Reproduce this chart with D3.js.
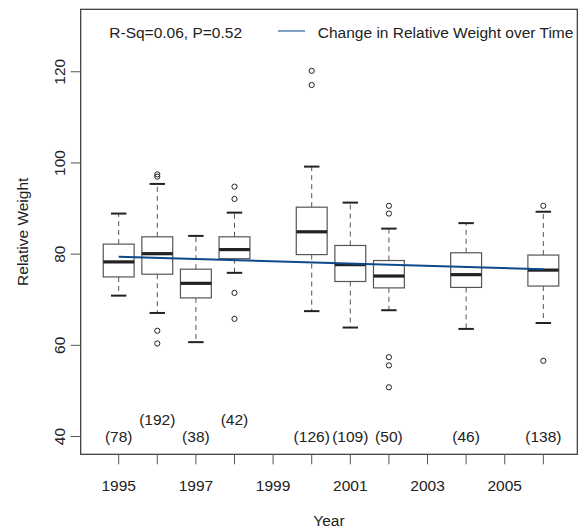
<!DOCTYPE html>
<html>
<head>
<meta charset="utf-8">
<script src="https://cdn.jsdelivr.net/npm/d3@7"></script>
<style>
  html, body { margin: 0; padding: 0; background: #fff; }
  text { font-family: "Liberation Sans", Arial, Helvetica, sans-serif; fill: #222; }
</style>
</head>
<body>
<svg id="chart" width="588" height="527"></svg>
<script>
// ---- data ----
const years        = [1995, 1996, 1997, 1998, 2000, 2001, 2002, 2004, 2006];
const counts       = [78, 192, 38, 42, 126, 109, 50, 46, 138];
const whiskerLow   = [70.9, 67.1, 60.7, 75.9, 67.5, 63.9, 67.7, 63.6, 64.9];
const q1           = [75.0, 75.6, 70.4, 79.0, 79.9, 74.0, 72.6, 72.7, 73.0];
const medians      = [78.3, 80.1, 73.6, 81.0, 84.9, 77.7, 75.2, 75.5, 76.5];
const q3           = [82.2, 83.8, 76.7, 83.8, 90.3, 81.9, 78.6, 80.3, 79.8];
const whiskerHigh  = [88.9, 95.4, 84.0, 89.1, 99.2, 91.3, 85.6, 86.8, 89.3];
const outliers     = [
  [],
  [97.5, 97.0, 63.2, 60.4],
  [],
  [94.8, 92.1, 71.5, 65.8],
  [120.2, 117.1],
  [],
  [90.6, 88.9, 57.4, 55.6, 50.8],
  [],
  [90.6, 56.6]
];
const countLabelLevel = [40, 43.7, 40, 43.7, 40, 40, 40, 40, 40];
const trendYears   = [1995, 2006];
const trendValues  = [79.43, 76.67];
const yTicks       = [40, 60, 80, 100, 120];
const xTicks       = d3.range(1995, 2007);
const xTickLabels  = [1995, 1997, 1999, 2001, 2003, 2005];
const statText     = "R-Sq=0.06, P=0.52";
const legendText   = "Change in Relative Weight over Time";

// ---- layout ----
const svg = d3.select("#chart");
const L = 80.7, R = 577.3, T = 9.3, B = 454.3;
const x = d3.scaleLinear().domain([1994.016, 2006.88]).range([L, R]);
const y = d3.scaleLinear().domain([36.1, 133.7]).range([B, T]);
const fs = 15.5;
const boxW = 0.8, capW = 0.4;

// frame
svg.append("rect").attr("x", L).attr("y", T).attr("width", R - L).attr("height", B - T)
  .attr("fill", "none").attr("stroke", "#333").attr("stroke-width", 1.2);

// y axis
svg.append("g").selectAll("line").data(yTicks).join("line")
  .attr("x1", L - 10).attr("x2", L).attr("y1", d => y(d)).attr("y2", d => y(d))
  .attr("stroke", "#555").attr("stroke-width", 1);
svg.append("g").selectAll("text").data(yTicks).join("text")
  .attr("transform", d => `translate(${L - 16},${y(d)}) rotate(-90)`)
  .attr("text-anchor", "middle").attr("font-size", fs).text(d => d);
svg.append("text")
  .attr("transform", `translate(28,${(T + B) / 2}) rotate(-90)`)
  .attr("text-anchor", "middle").attr("font-size", fs).text("Relative Weight");

// x axis
svg.append("g").selectAll("line").data(xTicks).join("line")
  .attr("x1", d => x(d)).attr("x2", d => x(d)).attr("y1", B).attr("y2", B + 10)
  .attr("stroke", "#555").attr("stroke-width", 1);
svg.append("g").selectAll("text").data(xTickLabels).join("text")
  .attr("x", d => x(d)).attr("y", 491).attr("text-anchor", "middle")
  .attr("font-size", fs).text(d => d);
svg.append("text").attr("x", (L + R) / 2).attr("y", 525.5).attr("text-anchor", "middle")
  .attr("font-size", fs).text("Year");

// boxes
const g = svg.append("g");
years.forEach((yr, i) => {
  const cx = x(yr);
  const hw = (x(yr + boxW / 2) - x(yr - boxW / 2)) / 2;
  const cw = (x(yr + capW / 2) - x(yr - capW / 2)) / 2;
  // whiskers
  g.append("line").attr("x1", cx).attr("x2", cx).attr("y1", y(q3[i])).attr("y2", y(whiskerHigh[i]))
    .attr("stroke", "#555").attr("stroke-dasharray", "5,4").attr("stroke-width", 1);
  g.append("line").attr("x1", cx).attr("x2", cx).attr("y1", y(q1[i])).attr("y2", y(whiskerLow[i]))
    .attr("stroke", "#555").attr("stroke-dasharray", "5,4").attr("stroke-width", 1);
  // caps
  [whiskerHigh[i], whiskerLow[i]].forEach(v => {
    g.append("line").attr("x1", cx - cw).attr("x2", cx + cw).attr("y1", y(v)).attr("y2", y(v))
      .attr("stroke", "#222").attr("stroke-width", 2);
  });
  // box
  g.append("rect").attr("x", cx - hw).attr("y", y(q3[i])).attr("width", 2 * hw)
    .attr("height", y(q1[i]) - y(q3[i]))
    .attr("fill", "#fff").attr("stroke", "#555").attr("stroke-width", 1.2);
  // median
  g.append("line").attr("x1", cx - hw).attr("x2", cx + hw).attr("y1", y(medians[i])).attr("y2", y(medians[i]))
    .attr("stroke", "#222").attr("stroke-width", 3.2);
  // outliers
  outliers[i].forEach(v => {
    g.append("circle").attr("cx", cx).attr("cy", y(v)).attr("r", 2.6)
      .attr("fill", "none").attr("stroke", "#222").attr("stroke-width", 1);
  });
  // count label
  g.append("text").attr("x", cx).attr("y", y(countLabelLevel[i]) + 5.5)
    .attr("text-anchor", "middle").attr("font-size", fs).text(`(${counts[i]})`);
});

// trend line
const line = d3.line().x(d => x(d[0])).y(d => y(d[1]));
svg.append("path").datum(trendYears.map((d, i) => [d, trendValues[i]]))
  .attr("d", line).attr("fill", "none").attr("stroke", "#0d4a8c").attr("stroke-width", 2);

// legend
svg.append("text").attr("x", 109.3).attr("y", 37.5).attr("font-size", fs).text(statText);
svg.append("line").attr("x1", 278).attr("x2", 305).attr("y1", 31).attr("y2", 31)
  .attr("stroke", "#2f62a0").attr("stroke-width", 1.2);
svg.append("text").attr("x", 317.8).attr("y", 37.5).attr("font-size", fs).text(legendText);
</script>
</body>
</html>
